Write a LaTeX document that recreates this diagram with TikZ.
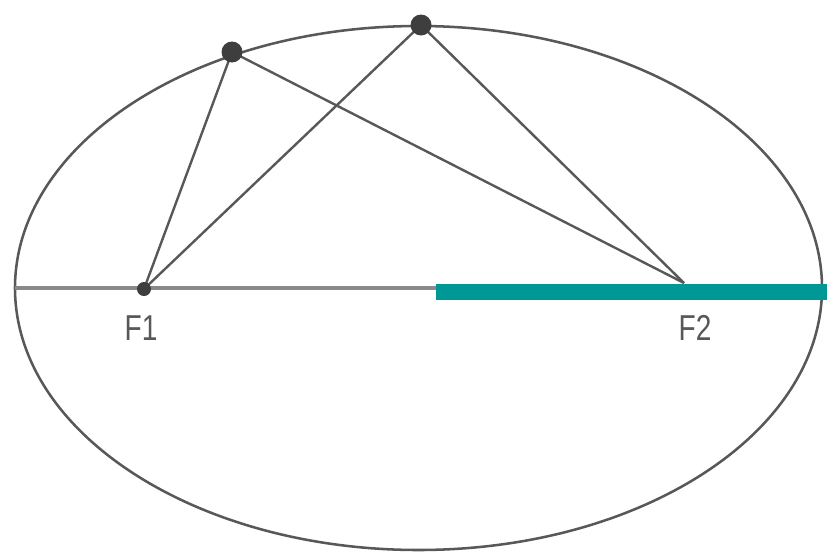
\documentclass[tikz,border=0pt]{standalone}
\usepackage{graphicx}
\usepackage{fontspec}
\setsansfont{Liberation Sans}
\usetikzlibrary{positioning,calc}
\definecolor{orbitgray}{RGB}{88,88,88}
\definecolor{axisgray}{RGB}{140,136,138}
\definecolor{tealbar}{RGB}{0,152,150}
\begin{document}
\begin{tikzpicture}[x=0.75pt,y=-0.75pt,
    orbit/.style={draw=orbitgray, line width=1.9pt},
    chord/.style={draw=orbitgray, line width=1.8pt},
    dot/.style={fill=orbitgray!70!black},
    flabel/.style={text=orbitgray, font=\sffamily\fontsize{27}{27}\selectfont, inner sep=0pt}]
    \useasboundingbox (0,0) rectangle (827,554);
    % ellipse and major axis
    \draw[orbit] (418.5,288) ellipse [x radius=403.5, y radius=262];
    \coordinate (left) at (15,288);
    \coordinate (mid) at (436,288);
    \coordinate (midt) at (436,292);
    \coordinate (right) at (827,292);
    \draw[axisgray, line width=3.2pt] (left) -- (mid);
    \draw[tealbar, line width=12pt] (midt) -- (right);
    % foci and points on the orbit
    \coordinate (F1) at (144,289);
    \coordinate (F2) at (684,283);
    \coordinate (P1) at (232,52);
    \coordinate (P2) at (421,25);
    \draw[chord] (F1) -- (P1) -- (F2);
    \draw[chord] (F1) -- (P2) -- (F2);
    \fill[dot] (F1) circle [radius=7];
    \fill[dot] (P1) circle [radius=10.5];
    \fill[dot] (P2) circle [radius=10.5];
    \node[flabel] (f1lab) at (141,328) {\scalebox{0.78}[1]{F1}};
    \node[flabel] (f2lab) at (695,328) {\scalebox{0.78}[1]{F2}};
\end{tikzpicture}
\end{document}
